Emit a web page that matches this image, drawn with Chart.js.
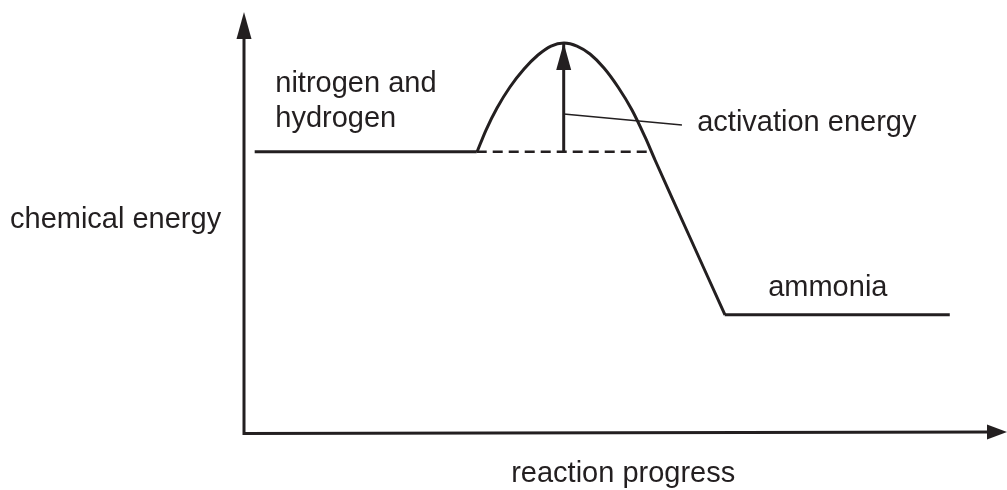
<!DOCTYPE html>
<html>
<head>
<meta charset="utf-8">
<script src="https://cdn.jsdelivr.net/npm/chart.js@4"></script>
<style>
html, body { margin: 0; padding: 0; background: #fff; }
</style>
</head>
<body>
<canvas id="myChart" width="1007" height="490"></canvas>
<script>
// energy profile, x = reaction progress (0-100), y = chemical energy (0-100)
const reactantX = [1.4, 30.5];
const reactantY = [66.7, 66.7];
const humpX = [30.54, 31.72, 33.16, 34.86, 36.70, 38.53, 40.24, 41.94, 43.64, 45.35, 47.18, 49.02, 50.85, 52.56, 53.87, 58.45, 63.04];
const humpY = [66.67, 71.90, 77.14, 82.14, 86.43, 89.76, 91.90, 92.62, 91.90, 90.00, 86.67, 82.14, 76.67, 70.24, 64.76, 46.31, 27.86];
const productX = [63.0, 92.5];
const productY = [27.9, 27.9];
const dashedX = [30.5, 52.8];
const dashedY = [66.7, 66.7];
const activationX = [41.9, 41.9];
const activationY = [66.7, 92.6];
const pointerX = [41.9, 57.4];
const pointerY = [75.7, 73.1];
const axisTitles = ["reaction progress", "chemical energy"];
const stageLabels = ["nitrogen and", "hydrogen", "activation energy", "ammonia"];

const ink = '#231f20';
const font = '29px "Liberation Sans", Arial, sans-serif';
const pts = (xs, ys) => xs.map((x, i) => ({ x: x, y: ys[i] }));

const line = (xs, ys, extra) => Object.assign({
    data: pts(xs, ys),
    showLine: true,
    pointRadius: 0,
    borderColor: ink,
    borderWidth: 3,
    fill: false,
    clip: false
}, extra || {});

const arrowHead = (ctx, tipX, tipY, dx, dy, len, half) => {
    // dx, dy = unit direction the arrow points to
    const bx = tipX - dx * len, by = tipY - dy * len;
    ctx.beginPath();
    ctx.moveTo(tipX, tipY);
    ctx.lineTo(bx - dy * half, by + dx * half);
    ctx.lineTo(bx + dy * half, by - dx * half);
    ctx.closePath();
    ctx.fill();
};

const decorations = {
    id: 'decorations',
    afterDatasetsDraw(chart) {
        const ctx = chart.ctx;
        const xs = chart.scales.x, ys = chart.scales.y;
        const X = v => xs.getPixelForValue(v);
        const Y = v => ys.getPixelForValue(v);
        ctx.save();
        ctx.strokeStyle = ink;
        ctx.fillStyle = ink;

        // axes
        ctx.lineWidth = 3;
        ctx.beginPath();
        ctx.moveTo(X(0), Y(100) + 20);
        ctx.lineTo(X(0), Y(0) + 1.5);
        ctx.lineTo(X(100) - 15, Y(0));
        ctx.stroke();
        arrowHead(ctx, X(0), Y(100), 0, -1, 27, 7.5);
        arrowHead(ctx, X(100), Y(0), 1, 0, 20, 7.5);

        // activation energy arrow head
        arrowHead(ctx, X(activationX[1]), Y(activationY[1]), 0, -1, 27, 7.5);

        // texts
        ctx.font = font;
        ctx.textBaseline = 'alphabetic';
        ctx.textAlign = 'left';
        ctx.fillText(stageLabels[0], X(4.1), Y(81.0));
        ctx.fillText(stageLabels[1], X(4.1), Y(72.6));
        ctx.fillText(stageLabels[2], X(59.4), Y(71.7));
        ctx.fillText(stageLabels[3], X(68.7), Y(32.4));
        ctx.fillText(axisTitles[1], 10, Y(48.6));
        ctx.textAlign = 'center';
        ctx.fillText(axisTitles[0], X(49.7), Y(0) + 50);
        ctx.restore();
    }
};

new Chart(document.getElementById('myChart'), {
    type: 'scatter',
    data: {
        datasets: [
            line(reactantX, reactantY),
            line(humpX, humpY, { tension: 0.3 }),
            line(productX, productY),
            line(dashedX, dashedY, { borderDash: [10, 6], borderWidth: 2.5 }),
            line(activationX, activationY),
            line(pointerX, pointerY, { borderWidth: 1.4 })
        ]
    },
    options: {
        responsive: false,
        animation: false,
        devicePixelRatio: 1,
        layout: { padding: { left: 244, right: 0, top: 12, bottom: 58 } },
        scales: {
            x: { type: 'linear', min: 0, max: 100, display: false },
            y: { type: 'linear', min: 0, max: 100, display: false }
        },
        plugins: {
            legend: { display: false },
            tooltip: { enabled: false }
        }
    },
    plugins: [decorations]
});
</script>
</body>
</html>
